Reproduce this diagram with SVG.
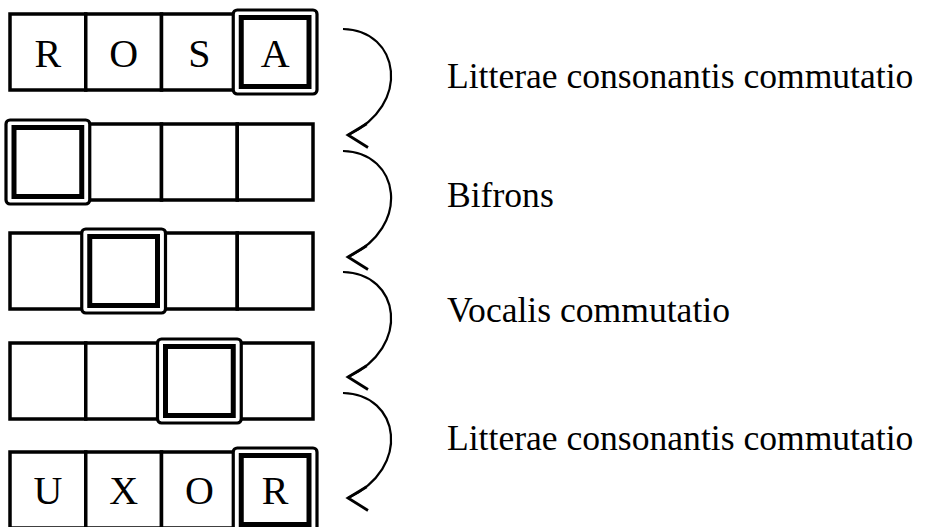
<svg xmlns="http://www.w3.org/2000/svg" width="927" height="527" viewBox="0 0 927 527">
<style>
.cell{fill:#fff;stroke:#000;stroke-width:3.5}
.hlo{fill:#fff;stroke:#000;stroke-width:3.2}
.hli{fill:none;stroke:#000;stroke-width:5}
.let{font-family:"Liberation Serif","Times New Roman",serif;font-size:40px;text-anchor:middle;fill:#000}
.lab{font-family:"Liberation Serif","Times New Roman",serif;font-size:35.6px;fill:#000}
.arc{fill:none;stroke:#000;stroke-width:2.2}
</style>
<defs>
<marker id="ah" markerUnits="userSpaceOnUse" orient="0" refX="0" refY="0" markerWidth="30" markerHeight="30" viewBox="-2 -12 20 24" overflow="visible">
<path d="M15,-9 L0,0 L16,10" fill="none" stroke="#000" stroke-width="2.2"/>
</marker>
</defs>
<rect width="927" height="527" fill="#fff"/>

<g id="row1">
<rect class="cell" x="10" y="14" width="75.75" height="76"/>
<rect class="cell" x="85.75" y="14" width="75.75" height="76"/>
<rect class="cell" x="161.5" y="14" width="75.75" height="76"/>
<rect class="cell" x="237.25" y="14" width="75.75" height="76"/>
<rect class="hlo" x="233.25" y="10" width="83.75" height="84" rx="4"/>
<rect class="hli" x="241.25" y="17.5" width="67.75" height="69"/>
<text class="let" x="47.9" y="67">R</text>
<text class="let" x="123.6" y="67">O</text>
<text class="let" x="199.4" y="67">S</text>
<text class="let" x="275.1" y="67">A</text>
</g>

<g id="row2">
<rect class="cell" x="10" y="124" width="75.75" height="76"/>
<rect class="cell" x="85.75" y="124" width="75.75" height="76"/>
<rect class="cell" x="161.5" y="124" width="75.75" height="76"/>
<rect class="cell" x="237.25" y="124" width="75.75" height="76"/>
<rect class="hlo" x="6" y="120" width="83.75" height="84" rx="4"/>
<rect class="hli" x="14" y="127.5" width="67.75" height="69"/>
</g>

<g id="row3">
<rect class="cell" x="10" y="233" width="75.75" height="76"/>
<rect class="cell" x="85.75" y="233" width="75.75" height="76"/>
<rect class="cell" x="161.5" y="233" width="75.75" height="76"/>
<rect class="cell" x="237.25" y="233" width="75.75" height="76"/>
<rect class="hlo" x="81.75" y="229" width="83.75" height="84" rx="4"/>
<rect class="hli" x="89.75" y="236.5" width="67.75" height="69"/>
</g>

<g id="row4">
<rect class="cell" x="10" y="343" width="75.75" height="76"/>
<rect class="cell" x="85.75" y="343" width="75.75" height="76"/>
<rect class="cell" x="161.5" y="343" width="75.75" height="76"/>
<rect class="cell" x="237.25" y="343" width="75.75" height="76"/>
<rect class="hlo" x="157.5" y="339" width="83.75" height="84" rx="4"/>
<rect class="hli" x="165.5" y="346.5" width="67.75" height="69"/>
</g>

<g id="row5">
<rect class="cell" x="10" y="452" width="75.75" height="76"/>
<rect class="cell" x="85.75" y="452" width="75.75" height="76"/>
<rect class="cell" x="161.5" y="452" width="75.75" height="76"/>
<rect class="cell" x="237.25" y="452" width="75.75" height="76"/>
<rect class="hlo" x="233.25" y="448" width="83.75" height="84" rx="4"/>
<rect class="hli" x="241.25" y="455.5" width="67.75" height="69"/>
<text class="let" x="47.9" y="504">U</text>
<text class="let" x="123.6" y="504">X</text>
<text class="let" x="199.4" y="504">O</text>
<text class="let" x="275.1" y="504">R</text>
</g>

<g id="connectors">
<path class="arc" marker-end="url(#ah)" d="M343,29 C400,30 412,105 348,135"/>
<path class="arc" marker-end="url(#ah)" d="M343,151 C400,152 412,227 348,257"/>
<path class="arc" marker-end="url(#ah)" d="M343,272 C400,273 412,347 348,377"/>
<path class="arc" marker-end="url(#ah)" d="M343,393 C400,394 412,468 348,498"/>
</g>

<g id="label1"><text class="lab" x="447" y="88">Litterae consonantis commutatio</text></g>
<g id="label2"><text class="lab" x="447" y="207">Bifrons</text></g>
<g id="label3"><text class="lab" x="447" y="322">Vocalis commutatio</text></g>
<g id="label4"><text class="lab" x="447" y="450">Litterae consonantis commutatio</text></g>
</svg>
